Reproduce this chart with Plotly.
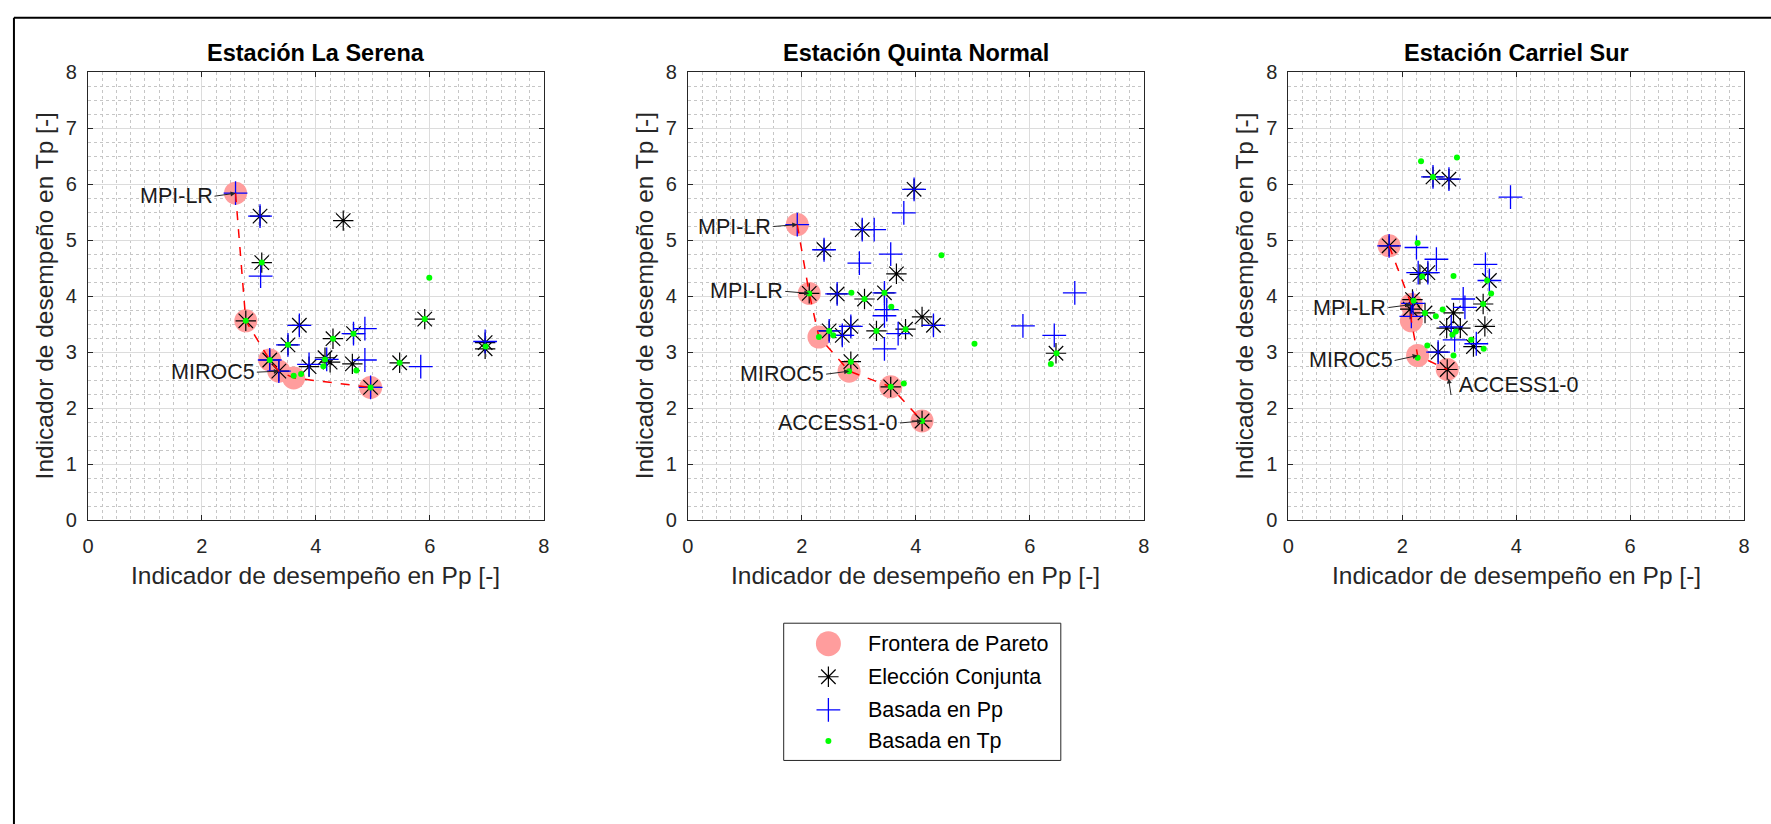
import plotly.graph_objects as go

# ---------------- DATA ----------------
STATIONS = ["Estación La Serena", "Estación Quinta Normal", "Estación Carriel Sur"]

# La Serena
LS_PARETO_X = [2.59, 2.77, 3.19, 3.35, 3.61, 4.96]
LS_PARETO_Y = [5.84, 3.56, 2.86, 2.66, 2.54, 2.37]
LS_CONJ_X = [3.02, 4.48, 3.05, 2.77, 5.91, 3.71, 3.51, 4.30, 4.66, 3.19, 3.35, 3.88, 4.16, 4.25, 4.64, 5.47, 4.96, 6.97, 6.97]
LS_CONJ_Y = [5.43, 5.35, 4.60, 3.56, 3.59, 3.48, 3.13, 3.24, 3.33, 2.86, 2.66, 2.74, 2.90, 2.82, 2.79, 2.81, 2.37, 3.17, 3.06]
LS_PP_X = [2.59, 3.02, 3.03, 3.71, 3.51, 4.66, 4.86, 3.19, 3.35, 3.88, 4.19, 4.86, 5.84, 6.97, 4.96]
LS_PP_Y = [5.84, 5.43, 4.36, 3.48, 3.13, 3.33, 3.42, 2.86, 2.66, 2.78, 2.87, 2.86, 2.74, 3.19, 2.37]
LS_TP_X = [5.99, 3.05, 2.77, 5.91, 3.51, 4.30, 4.66, 3.19, 3.61, 3.74, 4.16, 4.13, 4.71, 5.47, 4.96, 6.98]
LS_TP_Y = [4.33, 4.60, 3.56, 3.59, 3.13, 3.24, 3.33, 2.86, 2.58, 2.61, 2.87, 2.75, 2.67, 2.81, 2.37, 3.10]

# Quinta Normal
QN_PARETO_X = [1.92, 2.13, 2.30, 2.83, 3.56, 4.11]
QN_PARETO_Y = [5.28, 4.05, 3.27, 2.66, 2.38, 1.77]
QN_CONJ_X = [3.97, 3.06, 2.39, 3.66, 2.13, 2.62, 3.10, 3.45, 4.11, 4.31, 2.48, 2.71, 2.86, 3.31, 3.82, 2.86, 3.56, 4.11, 6.46]
QN_CONJ_Y = [5.91, 5.19, 4.83, 4.40, 4.05, 4.04, 3.95, 4.06, 3.63, 3.48, 3.38, 3.30, 3.46, 3.38, 3.41, 2.83, 2.38, 1.77, 2.98]
QN_PP_X = [1.92, 3.97, 3.79, 3.06, 3.27, 2.39, 3.56, 3.01, 2.62, 3.45, 3.49, 3.45, 4.31, 2.48, 2.71, 2.86, 3.69, 3.45, 5.88, 6.43, 6.79]
QN_PP_Y = [5.28, 5.91, 5.49, 5.19, 5.19, 4.83, 4.75, 4.59, 4.04, 4.06, 3.76, 3.65, 3.48, 3.38, 3.30, 3.46, 3.33, 3.06, 3.47, 3.30, 4.06]
QN_TP_X = [4.45, 2.87, 2.13, 3.10, 3.45, 3.57, 2.48, 2.55, 2.30, 3.31, 3.82, 5.03, 6.47, 6.37, 2.86, 2.83, 3.79, 3.56, 4.11]
QN_TP_Y = [4.73, 4.06, 4.05, 3.95, 4.06, 3.81, 3.38, 3.30, 3.27, 3.38, 3.41, 3.15, 2.98, 2.79, 2.83, 2.66, 2.44, 2.38, 1.77]

# Carriel Sur
CS_PARETO_X = [1.77, 2.16, 2.16, 2.27, 2.79]
CS_PARETO_Y = [4.90, 3.85, 3.56, 2.94, 2.69]
CS_CONJ_X = [2.54, 2.82, 1.77, 2.31, 2.45, 3.53, 2.18, 2.14, 2.40, 2.90, 3.42, 2.78, 3.02, 3.45, 3.25, 2.63, 2.79]
CS_CONJ_Y = [6.13, 6.09, 4.90, 4.39, 4.42, 4.28, 3.94, 3.77, 3.70, 3.70, 3.86, 3.43, 3.43, 3.46, 3.10, 3.00, 2.69]
CS_PP_X = [2.54, 2.82, 3.90, 1.77, 2.25, 2.60, 2.28, 2.45, 3.46, 3.53, 2.19, 2.16, 3.07, 3.10, 2.86, 2.92, 3.30, 2.63]
CS_PP_Y = [6.13, 6.09, 5.77, 4.90, 4.87, 4.66, 4.42, 4.42, 4.57, 4.28, 3.87, 3.64, 3.95, 3.80, 3.45, 3.22, 3.15, 3.00]
CS_TP_X = [2.33, 2.96, 2.54, 2.27, 2.35, 2.90, 3.49, 3.56, 2.20, 2.40, 2.59, 2.71, 3.42, 2.88, 2.94, 3.21, 2.44, 3.43, 2.90, 2.27]
CS_TP_Y = [6.41, 6.48, 6.13, 4.95, 4.35, 4.36, 4.28, 4.05, 3.92, 3.70, 3.64, 3.76, 3.86, 3.31, 3.37, 3.22, 3.12, 3.06, 2.94, 2.90]

# Labels: (text, index of pareto point)
LS_LABELS = [("MPI-LR", 0), ("MIROC5", 3)]
QN_LABELS = [("MPI-LR", 0), ("MPI-LR", 1), ("MIROC5", 3), ("ACCESS1-0", 5)]
CS_LABELS = [("MPI-LR", 1), ("MIROC5", 3), ("ACCESS1-0", 4)]

SERIES_NAMES = ["Frontera de Pareto", "Elección Conjunta", "Basada en Pp", "Basada en Tp"]
X_TITLE = "Indicador de desempeño en Pp [-]"
Y_TITLE = "Indicador de desempeño en Tp [-]"

# ---------------- STYLE ----------------
W, H = 1771, 824
FONT = "Liberation Sans, Arial, Helvetica, sans-serif"
DARK = "#262626"
PINK = "#ff9d9d"
GREEN = "#00ff00"
BLUE = "#0000ff"

panels = [
    dict(title=STATIONS[0], px=LS_PARETO_X, py=LS_PARETO_Y, cx=LS_CONJ_X, cy=LS_CONJ_Y,
         bx=LS_PP_X, by=LS_PP_Y, tx=LS_TP_X, ty=LS_TP_Y, labels=LS_LABELS),
    dict(title=STATIONS[1], px=QN_PARETO_X, py=QN_PARETO_Y, cx=QN_CONJ_X, cy=QN_CONJ_Y,
         bx=QN_PP_X, by=QN_PP_Y, tx=QN_TP_X, ty=QN_TP_Y, labels=QN_LABELS),
    dict(title=STATIONS[2], px=CS_PARETO_X, py=CS_PARETO_Y, cx=CS_CONJ_X, cy=CS_CONJ_Y,
         bx=CS_PP_X, by=CS_PP_Y, tx=CS_TP_X, ty=CS_TP_Y, labels=CS_LABELS),
]

# pixel geometry of the three axes boxes
X_PIX = [(82.5, 541.5), (686.5, 1145.5), (1291.0, 1750.0)]
Y_TOP, Y_BOT = 63.0, 523.0

# label placement offsets (pixels) for arrows
LABEL_OFFSETS = [
    [(-21, 3), (-22, 1)],
    [(-24, 2), (-24, -2), (-23, 3), (-22, 2)],
    [(-23, 3), (-23, 5), None],
]

STY_PARETO = dict(size=23, color=PINK, line=dict(width=0))
STY_CONJ = dict(symbol="asterisk-open", size=17, color="black", line=dict(color="black", width=1.2))
STY_PP = dict(symbol="cross-thin-open", size=17, color=BLUE, line=dict(color=BLUE, width=1.3))
STY_TP = dict(size=6, color=GREEN, line=dict(width=0))

fig = go.Figure()
annotations = []
shapes = []

# helper axes used for the hand-drawn legend box (added first so it sits underneath)
fig.add_trace(go.Scatter(x=[None], y=[None], xaxis="x4", yaxis="y4", showlegend=False, hoverinfo="skip"))

axis_common = dict(
    range=[0, 8], showline=True, linecolor=DARK, linewidth=1, mirror="allticks",
    ticks="inside", ticklen=5, tickcolor=DARK, tickwidth=1,
    tickfont=dict(family=FONT, size=20, color=DARK),
    showgrid=True, gridcolor="#dcdcdc", gridwidth=1, zeroline=False,
    minor=dict(dtick=0.25, showgrid=True, gridcolor="#c6c6c6", griddash="dot", gridwidth=1),
    fixedrange=True,
)

for i, p in enumerate(panels):
    suf = "" if i == 0 else str(i + 1)
    xa, ya = "x" + suf, "y" + suf
    common = dict(xaxis=xa, yaxis=ya, showlegend=False, hoverinfo="skip")
    fig.add_trace(go.Scatter(x=p["px"], y=p["py"], mode="markers", marker=STY_PARETO, **common))
    fig.add_trace(go.Scatter(x=p["cx"], y=p["cy"], mode="markers", marker=STY_CONJ, **common))
    fig.add_trace(go.Scatter(x=p["bx"], y=p["by"], mode="markers", marker=STY_PP, **common))
    fig.add_trace(go.Scatter(x=p["px"], y=p["py"], mode="lines",
                             line=dict(color="red", width=1.5, dash="dash"), **common))
    fig.add_trace(go.Scatter(x=p["tx"], y=p["ty"], mode="markers", marker=STY_TP, **common))

    x0, x1 = X_PIX[i]
    fig.layout["xaxis" + suf] = dict(domain=[x0 / W, x1 / W], anchor=ya, dtick=2, tick0=0,
                                     ticklabelstandoff=8, **axis_common)
    fig.layout["yaxis" + suf] = dict(domain=[1 - Y_BOT / H, 1 - Y_TOP / H], anchor=xa, dtick=1, tick0=0,
                                     ticklabelstandoff=6, **axis_common)

    cx_pix = (x0 + x1) / 2
    annotations.append(dict(text="<b>" + p["title"] + "</b>", xref="paper", yref="paper",
                            x=cx_pix / W, y=1 - 43 / H, xanchor="center", yanchor="middle",
                            showarrow=False, font=dict(family=FONT, size=23.5, color="black")))
    annotations.append(dict(text=X_TITLE, xref="paper", yref="paper", x=cx_pix / W, y=1 - 580 / H,
                            xanchor="center", yanchor="middle", showarrow=False,
                            font=dict(family=FONT, size=24.5, color=DARK)))
    annotations.append(dict(text=Y_TITLE, xref="paper", yref="paper", x=(x0 - 44) / W,
                            y=1 - (Y_TOP + Y_BOT) / 2 / H, xanchor="center", yanchor="middle",
                            textangle=-90, showarrow=False, font=dict(family=FONT, size=24.5, color=DARK)))
    for (txt, idx), off in zip(p["labels"], LABEL_OFFSETS[i]):
        px, py = p["px"][idx], p["py"][idx]
        if off is not None:
            annotations.append(dict(text=txt, x=px, y=py, xref=xa, yref=ya, ax=off[0], ay=off[1],
                                    axref="pixel", ayref="pixel", xanchor="right", yanchor="middle",
                                    showarrow=True, arrowhead=2, arrowsize=1, arrowwidth=1,
                                    arrowcolor=DARK, standoff=0,
                                    font=dict(family=FONT, size=21.5, color="#1a1a1a")))
        else:
            annotations.append(dict(text="", x=px, y=py, xref=xa, yref=ya, ax=4, ay=27,
                                    axref="pixel", ayref="pixel", showarrow=True, arrowhead=2,
                                    arrowsize=1, arrowwidth=1, arrowcolor=DARK, standoff=9))
            annotations.append(dict(text=txt, x=px, y=py, xref=xa, yref=ya, xshift=10, yshift=-16,
                                    xanchor="left", yanchor="middle", showarrow=False,
                                    font=dict(family=FONT, size=21.5, color="#1a1a1a")))

# ---------------- LEGEND (drawn manually) ----------------
LEG_L, LEG_R, LEG_T, LEG_B = 783, 1062, 629, 770
shapes.append(dict(type="rect", xref="paper", yref="paper", x0=LEG_L / W, x1=LEG_R / W,
                   y0=1 - LEG_B / H, y1=1 - LEG_T / H, line=dict(color=DARK, width=1),
                   fillcolor="white", layer="below"))
row_y = [650, 684, 718, 750]
sym_x = 828
leg_styles = [dict(STY_PARETO, size=25), STY_CONJ, STY_PP, STY_TP]
for name, st, ry in zip(SERIES_NAMES, leg_styles, row_y):
    fig.add_trace(go.Scatter(x=[sym_x], y=[ry], mode="markers", marker=st, xaxis="x4", yaxis="y4",
                             showlegend=False, hoverinfo="skip"))
    annotations.append(dict(text=name, xref="paper", yref="paper", x=866 / W, y=1 - ry / H,
                            xanchor="left", yanchor="middle", showarrow=False,
                            font=dict(family=FONT, size=21.5, color="black")))
fig.layout["xaxis4"] = dict(domain=[0, 1], range=[0, W], visible=False, fixedrange=True, anchor="y4")
fig.layout["yaxis4"] = dict(domain=[0, 1], range=[H, 0], visible=False, fixedrange=True, anchor="x4")

# outer figure border (left and top edges visible)
shapes.append(dict(type="line", xref="paper", yref="paper", x0=8 / W, x1=8 / W, y0=-0.05, y1=1 - 7 / H,
                   line=dict(color="black", width=2)))
shapes.append(dict(type="line", xref="paper", yref="paper", x0=8 / W, x1=1.05, y0=1 - 7 / H, y1=1 - 7 / H,
                   line=dict(color="black", width=2)))

fig.update_layout(
    width=W, height=H, margin=dict(l=0, r=0, t=0, b=0),
    paper_bgcolor="white", plot_bgcolor="rgba(0,0,0,0)",
    annotations=annotations, shapes=shapes, showlegend=False,
    font=dict(family=FONT),
)

fig.write_html("out.html")
